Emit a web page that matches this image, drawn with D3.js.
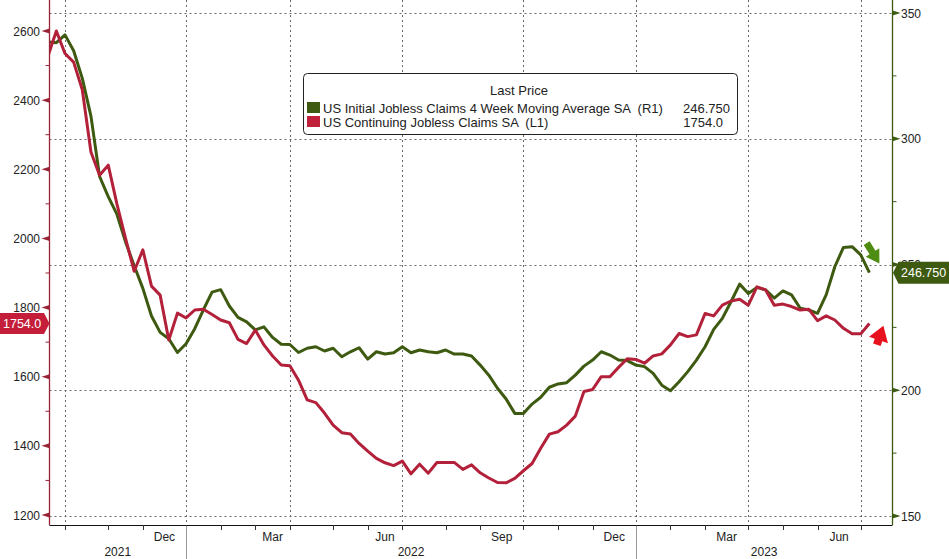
<!DOCTYPE html>
<html>
<head>
<meta charset="utf-8">
<script src="https://cdn.jsdelivr.net/npm/d3@7"></script>
<style>
  body { margin: 0; background: #fff; }
  svg { display: block; font-family: "Liberation Sans", Arial, sans-serif; }
</style>
</head>
<body>
<svg id="chart" width="949" height="559"></svg>
<script>
// weekly observations (Friday dated), first one
var firstWeek = "2021-09-17"

// US Continuing Jobless Claims SA (L1), thousands
var continuing = [2525, 2600, 2535, 2510, 2430, 2250, 2183, 2212, 2100, 2000,
  1905, 1967, 1862, 1836, 1706, 1784, 1770, 1793, 1795, 1780,
  1764, 1756, 1708, 1696, 1735, 1692, 1660, 1634, 1632, 1590,
  1533, 1525, 1495, 1460, 1438, 1434, 1407, 1385, 1364, 1351,
  1343, 1356, 1319, 1347, 1321, 1352, 1352, 1352, 1332, 1345,
  1322, 1307, 1294, 1293, 1306, 1328, 1349, 1393, 1434, 1441,
  1460, 1486, 1557, 1563, 1600, 1600, 1627, 1652, 1650, 1639,
  1660, 1666, 1692, 1725, 1716, 1721, 1783, 1776, 1807, 1819,
  1824, 1807, 1860, 1851, 1807, 1810, 1803, 1793, 1795, 1762,
  1776, 1764, 1740, 1724, 1724, 1754]

// US Initial Jobless Claims 4 Week Moving Average SA (R1), thousands
var initial4wk = [338.5, 338.2, 341.3, 335, 324, 309, 285, 277, 270, 259,
  249.5, 240.5, 229.5, 223, 220.5, 215, 218.5, 224.5, 232, 239,
  240, 233.5, 229, 227.2, 224, 225.2, 221, 218.3, 218.2, 215,
  216.7, 217.3, 215.6, 216.7, 213.3, 215.3, 216.9, 212.4, 215.3, 214.4,
  214.9, 217.3, 214.9, 216, 215.3, 214.9, 216, 214.4, 214.4, 213.6,
  210, 206, 200.8, 196.5, 190.8, 190.8, 194.5, 197.2, 201.2, 202.5,
  203, 206, 209.6, 212, 215.3, 214, 212, 211.8, 210, 209.4,
  206.7, 202, 199.8, 203.4, 207.4, 212, 217.3, 224.2, 228.6, 235.2,
  242.2, 238.5, 240.9, 239.9, 236.6, 239.5, 237.9, 232.6, 231.9, 230.6,
  237.9, 249.1, 256.8, 257.1, 253.8, 246.75]

var leftTicks = [1200, 1400, 1600, 1800, 2000, 2200, 2400, 2600]
var leftMinor = [1300, 1500, 1700, 1900, 2100, 2300, 2500]
var rightTicks = [150, 200, 250, 300, 350]
var rightMinor = [175, 225, 275, 325]
var monthNames = ["Jan","Feb","Mar","Apr","May","Jun","Jul","Aug","Sep","Oct","Nov","Dec"]
var labelledMonths = [2, 5, 8, 11]   // Mar Jun Sep Dec
var legendTitle = "Last Price"
var seriesNames = ["US Initial Jobless Claims 4 Week Moving Average SA  (R1)",
                   "US Continuing Jobless Claims SA  (L1)"]
var lastLabels = ["246.750", "1754.0"]

var green = "#3d5a10", red = "#b3203a"

// note: "top" is taken by window.top, so plotTop
var plotLeft = 49.5, plotRight = 892.5, plotTop = 0, plotBottom = 525

var svg = d3.select("#chart")

var parse = d3.timeParse("%Y-%m-%d")
var dates = continuing.map(function (d, i) { return d3.timeDay.offset(parse(firstWeek), 7 * i) })

var x = d3.scaleTime().domain([dates[0], dates[dates.length - 1]]).range([47.7, 869.4])
var yL = d3.scaleLinear().domain([1200, 2600]).range([515, 31])
var yR = d3.scaleLinear().domain([150, 350]).range([516, 13])

// first observation of each month
var monthStarts = []
dates.forEach(function (d, i) {
  if (i > 0 && d.getMonth() != dates[i - 1].getMonth()) monthStarts.push(d)
})

svg.append("defs").append("clipPath").attr("id", "plot")
  .append("rect").attr("x", plotLeft).attr("y", plotTop)
  .attr("width", plotRight - plotLeft).attr("height", plotBottom - plotTop)

// grid
var grid = svg.append("g").attr("stroke", "#6a6a6a").attr("stroke-width", 1).attr("stroke-dasharray", "2,3")
grid.selectAll("line.h").data(rightTicks).enter().append("line")
  .attr("x1", plotLeft).attr("x2", plotRight)
  .attr("y1", function (d) { return Math.round(yR(d)) + 0.5 })
  .attr("y2", function (d) { return Math.round(yR(d)) + 0.5 })
grid.selectAll("line.v").data(monthStarts.filter(function (d) { return d.getMonth() % 3 == 0 })).enter().append("line")
  .attr("y1", plotTop).attr("y2", plotBottom)
  .attr("x1", function (d) { return Math.round(x(d)) + 0.5 })
  .attr("x2", function (d) { return Math.round(x(d)) + 0.5 })

// series
var lines = svg.append("g").attr("clip-path", "url(#plot)").attr("fill", "none")
  .attr("stroke-width", 3).attr("stroke-linejoin", "round")
lines.append("path")
  .attr("stroke", green)
  .attr("d", d3.line().x(function (d, i) { return x(dates[i]) }).y(function (d) { return yR(d) })(initial4wk))
lines.append("path")
  .attr("stroke", red)
  .attr("d", d3.line().x(function (d, i) { return x(dates[i]) }).y(function (d) { return yL(d) })(continuing))

// x axis
svg.append("line").attr("x1", plotLeft).attr("x2", plotRight).attr("y1", plotBottom + 0.5).attr("y2", plotBottom + 0.5)
  .attr("stroke", "#111").attr("stroke-width", 1.2)
svg.append("g").selectAll("line").data(monthStarts).enter().append("line")
  .attr("x1", function (d) { return Math.round(x(d)) + 0.5 })
  .attr("x2", function (d) { return Math.round(x(d)) + 0.5 })
  .attr("y1", plotBottom).attr("y2", plotBottom + 5).attr("stroke", "#333")

var monthLabels = []
monthStarts.forEach(function (d, i) {
  if (i < monthStarts.length - 1 && labelledMonths.indexOf(d.getMonth()) > -1)
    monthLabels.push({ name: monthNames[d.getMonth()], x: (x(d) + x(monthStarts[i + 1])) / 2 })
})
svg.append("g").attr("font-size", 12).attr("fill", "#222").attr("text-anchor", "middle")
  .selectAll("text").data(monthLabels).enter().append("text")
  .attr("x", function (d) { return d.x }).attr("y", 541).text(function (d) { return d.name })

var yearStarts = monthStarts.filter(function (d) { return d.getMonth() == 0 })
var yearEdges = [plotLeft].concat(yearStarts.map(x)).concat([plotRight])
var years = [2021, 2022, 2023]
svg.append("g").attr("font-size", 12).attr("fill", "#222").attr("text-anchor", "middle")
  .selectAll("text").data(years).enter().append("text")
  .attr("x", function (d, i) { return (yearEdges[i] + yearEdges[i + 1]) / 2 })
  .attr("y", 556).text(function (d) { return d })
svg.append("g").selectAll("line").data(yearStarts).enter().append("line")
  .attr("x1", function (d) { return Math.round(x(d)) + 0.5 })
  .attr("x2", function (d) { return Math.round(x(d)) + 0.5 })
  .attr("y1", plotBottom + 1).attr("y2", 559).attr("stroke", "#999")

// left axis (red)
svg.append("line").attr("x1", plotLeft).attr("x2", plotLeft).attr("y1", 0).attr("y2", plotBottom)
  .attr("stroke", "#9a2235").attr("stroke-width", 1.3)
svg.append("g").selectAll("path").data(leftTicks).enter().append("path")
  .attr("fill", "#9a2235")
  .attr("d", function (d) { var y = yL(d); return "M" + plotLeft + "," + (y - 2.5) + "L" + (plotLeft - 8) + "," + y + "L" + plotLeft + "," + (y + 2.5) + "Z" })
svg.append("g").selectAll("line").data(leftMinor).enter().append("line")
  .attr("x1", plotLeft - 4).attr("x2", plotLeft)
  .attr("y1", function (d) { return yL(d) }).attr("y2", function (d) { return yL(d) })
  .attr("stroke", "#9a2235")
svg.append("g").attr("font-size", 12).attr("fill", "#222").attr("text-anchor", "end")
  .selectAll("text").data(leftTicks).enter().append("text")
  .attr("x", 40).attr("y", function (d) { return yL(d) + 4.5 }).text(function (d) { return d })

// right axis (green)
svg.append("line").attr("x1", plotRight).attr("x2", plotRight).attr("y1", 0).attr("y2", plotBottom)
  .attr("stroke", green).attr("stroke-width", 1.3)
svg.append("g").selectAll("path").data(rightTicks).enter().append("path")
  .attr("fill", green)
  .attr("d", function (d) { var y = yR(d); return "M" + plotRight + "," + (y - 2.5) + "L" + (plotRight + 8) + "," + y + "L" + plotRight + "," + (y + 2.5) + "Z" })
svg.append("g").selectAll("line").data(rightMinor).enter().append("line")
  .attr("x1", plotRight).attr("x2", plotRight + 4)
  .attr("y1", function (d) { return yR(d) }).attr("y2", function (d) { return yR(d) })
  .attr("stroke", green)
svg.append("g").attr("font-size", 12).attr("fill", "#222")
  .selectAll("text").data(rightTicks).enter().append("text")
  .attr("x", 901).attr("y", function (d) { return yR(d) + 4.5 }).text(function (d) { return d })

// legend
var lg = svg.append("g")
lg.append("rect").attr("x", 303.5).attr("y", 73.5).attr("width", 434).attr("height", 61).attr("rx", 4)
  .attr("fill", "#fff").attr("stroke", "#222")
lg.append("text").attr("x", 519).attr("y", 95).attr("text-anchor", "middle").attr("font-size", 13)
  .attr("fill", "#222").text(legendTitle)
var legendColors = [green, "#c0203a"]
seriesNames.forEach(function (name, i) {
  var yy = 112.5 + i * 14
  lg.append("rect").attr("x", 307).attr("y", yy - 10.5).attr("width", 13).attr("height", 11).attr("fill", legendColors[i])
  lg.append("text").attr("x", 323).attr("y", yy).attr("font-size", 13).attr("fill", "#222")
    .style("white-space", "pre").text(name)
  lg.append("text").attr("x", i == 0 ? 730 : 723).attr("y", yy).attr("font-size", 13).attr("fill", "#222")
    .attr("text-anchor", "end").text(lastLabels[i])
})

// last value tags
var gy = yR(initial4wk[initial4wk.length - 1])
svg.append("path").attr("fill", green)
  .attr("d", "M" + (plotRight + 0.5) + "," + gy + "L" + (plotRight + 6) + "," + (gy - 11) + "L949," + (gy - 11) + "L949," + (gy + 11) + "L" + (plotRight + 6) + "," + (gy + 11) + "Z")
svg.append("text").attr("x", 901).attr("y", gy + 4.5).attr("font-size", 12.5).attr("fill", "#fff").text(lastLabels[0])

var ry = yL(continuing[continuing.length - 1])
svg.append("path").attr("fill", "#c41e3a")
  .attr("d", "M0," + (ry - 10.5) + "L44," + (ry - 10.5) + "L" + plotLeft + "," + ry + "L44," + (ry + 10.5) + "L0," + (ry + 10.5) + "Z")
svg.append("text").attr("x", 3).attr("y", ry + 4.5).attr("font-size", 12.5).attr("fill", "#fff").text(lastLabels[1])

// direction arrows
function arrowPath(stem, stemW, head, headW) {
  return "M" + (-stem) + "," + (-stemW) + "L0," + (-stemW) + "L0," + (-headW) + "L" + head + ",0L0," + headW +
    "L0," + stemW + "L" + (-stem) + "," + stemW + "Z"
}
svg.append("path").attr("fill", "#4e8c12").attr("transform", "translate(872.5,252.5) rotate(58)")
  .attr("d", arrowPath(11, 3.5, 13, 8))
svg.append("path").attr("fill", "#e8121f").attr("transform", "translate(878.5,340) rotate(-71)")
  .attr("d", arrowPath(5, 4, 15, 10))
</script>
</body>
</html>
